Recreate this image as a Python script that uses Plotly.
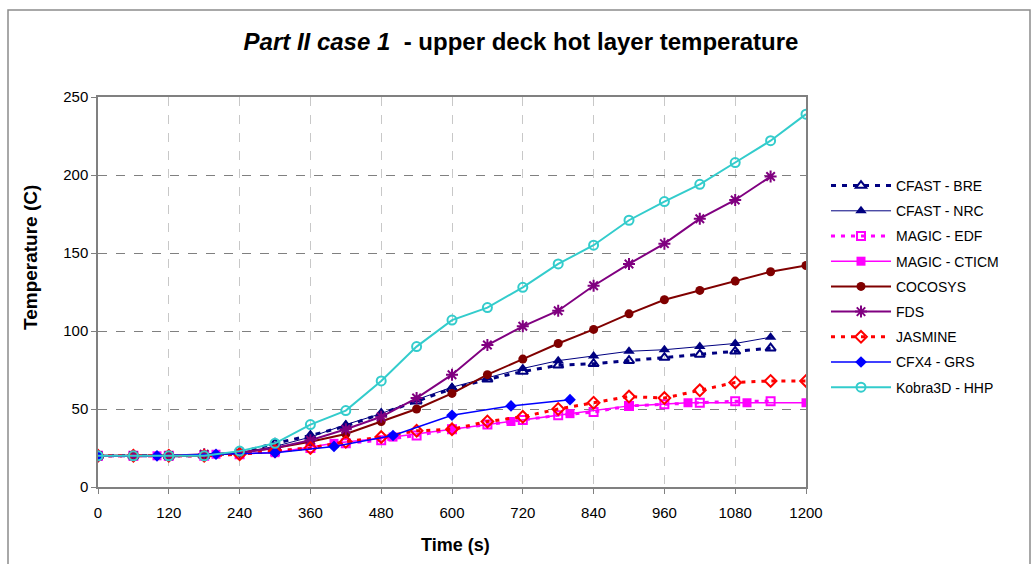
import plotly.graph_objects as go

# ---- data ----
t60 = [0, 60, 120, 180, 240, 300, 360, 420, 480, 540, 600, 660, 720, 780, 840, 900, 960, 1020, 1080, 1140, 1200]
t100 = [0, 100, 200, 300, 400, 500, 600, 700, 800, 900, 1000, 1100, 1200]

cfast_bre_t = t60[:20]
cfast_bre = [20, 20, 20, 20, 22, 28, 33, 39, 47, 55, 63, 69, 74, 78, 79, 81, 83, 85, 87, 89]

cfast_nrc_t = t60[:20]
cfast_nrc = [20, 20, 20, 20, 22, 26, 32, 40, 47, 56, 64, 70, 76, 81, 84, 87, 88, 90, 92, 96]

magic_edf_t = t60[:20]
magic_edf = [20, 20, 20, 20, 21, 23, 25, 28, 30, 33, 37, 40, 43, 46, 48, 52, 53, 54, 55, 55]

magic_cticm_t = t100
magic_cticm = [20, 20, 21, 22, 28, 32, 37, 42, 47, 52, 54, 54, 54]

cocosys_t = t60
cocosys = [20, 20, 20, 20, 22, 25, 29, 34, 42, 50, 60, 72, 82, 92, 101, 111, 120, 126, 132, 138, 142]

fds_t = t60[:20]
fds = [20, 20, 20, 21, 22, 25, 30, 37, 45, 57, 72, 91, 103, 113, 129, 143, 156, 172, 184, 199]

jasmine_t = t60
jasmine = [20, 20, 20, 20, 21, 23, 25, 29, 32, 36, 37, 42, 45, 50, 54, 58, 57, 62, 67, 68, 68]

cfx4_t = t100[:9]
cfx4 = [20, 20, 21, 22, 26, 33, 46, 52, 56]

kobra_t = t60
kobra = [20, 20, 20, 20, 23, 28, 40, 49, 68, 90, 107, 115, 128, 143, 155, 171, 183, 194, 208, 222, 239]

x_ticks = [0, 120, 240, 360, 480, 600, 720, 840, 960, 1080, 1200]
y_ticks = [0, 50, 100, 150, 200, 250]

series = [
    ("CFAST - BRE", cfast_bre_t, cfast_bre, "#000080", 3, "5px,6px", "triangle-up-open", 9),
    ("CFAST - NRC", cfast_nrc_t, cfast_nrc, "#000080", 1, "solid", "triangle-up", 10),
    ("MAGIC - EDF", magic_edf_t, magic_edf, "#FF00FF", 3, "4px,6px", "square-open", 8),
    ("MAGIC - CTICM", magic_cticm_t, magic_cticm, "#FF00FF", 1.5, "solid", "square", 9),
    ("COCOSYS", cocosys_t, cocosys, "#800000", 2, "solid", "circle", 9),
    ("FDS", fds_t, fds, "#800080", 2, "solid", "asterisk-open", 10),
    ("JASMINE", jasmine_t, jasmine, "#FF0000", 3, "4px,6px", "diamond-open", 9),
    ("CFX4 - GRS", cfx4_t, cfx4, "#0000FF", 1.5, "solid", "diamond", 9),
    ("Kobra3D - HHP", kobra_t, kobra, "#33CCCC", 2, "solid", "circle-open", 9),
]

fig = go.Figure()
for i, (name, xs, ys, col, lw, dash, sym, ms) in enumerate(series):
    fig.add_trace(go.Scatter(
        x=xs, y=ys, name=name, mode="lines+markers",
        legendgroup=f"g{i}",
        line=dict(color=col, width=lw, dash=dash),
        marker=dict(symbol=sym, size=ms, color=col,
                    line=dict(color=col, width=2 if "open" in sym else 0)),
    ))

PL, PR, PT, PB = 98, 806, 97, 487
W, H = 1035, 564

def px_x(p):
    return (p - PL) / (PR - PL)

def px_y(p):
    return (PB - p) / (PB - PT)

fig.update_layout(
    width=W, height=H,
    margin=dict(l=PL, r=W - PR, t=PT, b=H - PB),
    paper_bgcolor="white", plot_bgcolor="white",
    font=dict(family="Liberation Sans, Arial, sans-serif", size=15, color="black"),
    title=dict(
        text="<b><i>Part II case 1</i>  - upper deck hot layer temperature</b>",
        x=521 / W, xanchor="center", y=1 - 42 / H, yanchor="middle",
        font=dict(size=24, color="black"),
    ),
    xaxis=dict(
        range=[0, 1200], tickvals=x_ticks, ticktext=[str(v) for v in x_ticks],
        showgrid=True, gridcolor="#c8c8c8", griddash="dash", gridwidth=1,
        showline=True, mirror=True, linecolor="#808080", linewidth=1.5,
        ticks="outside", ticklen=5, tickcolor="#808080",
        ticklabelstandoff=6,
        zeroline=False,
    ),
    yaxis=dict(
        range=[0, 250], tickvals=y_ticks, ticktext=[str(v) for v in y_ticks],
        showgrid=True, gridcolor="#808080", griddash="dash", gridwidth=1,
        showline=True, mirror=True, linecolor="#808080", linewidth=1.5,
        ticks="outside", ticklen=5, tickcolor="#808080",
        zeroline=False,
    ),
    legend=dict(
        x=px_x(826), xanchor="left", y=px_y(170), yanchor="top",
        traceorder="grouped", tracegroupgap=4, itemwidth=60,
        font=dict(size=14), bgcolor="rgba(0,0,0,0)",
    ),
    showlegend=True,
)

fig.add_annotation(text="<b>Time (s)</b>", xref="paper", yref="paper",
                   x=px_x(455), y=px_y(545), xanchor="center", yanchor="middle",
                   showarrow=False, font=dict(size=18))
fig.add_annotation(text="<b>Temperature (C)</b>", xref="paper", yref="paper",
                   x=px_x(30), y=px_y(258), xanchor="center", yanchor="middle",
                   textangle=-90, showarrow=False, font=dict(size=19))

fig.add_shape(type="rect", xref="paper", yref="paper",
              x0=px_x(8), x1=px_x(1030), y0=px_y(580), y1=px_y(10),
              line=dict(color="#8c8c8c", width=1.5), fillcolor="rgba(0,0,0,0)", layer="below")

fig.write_html("out.html")
